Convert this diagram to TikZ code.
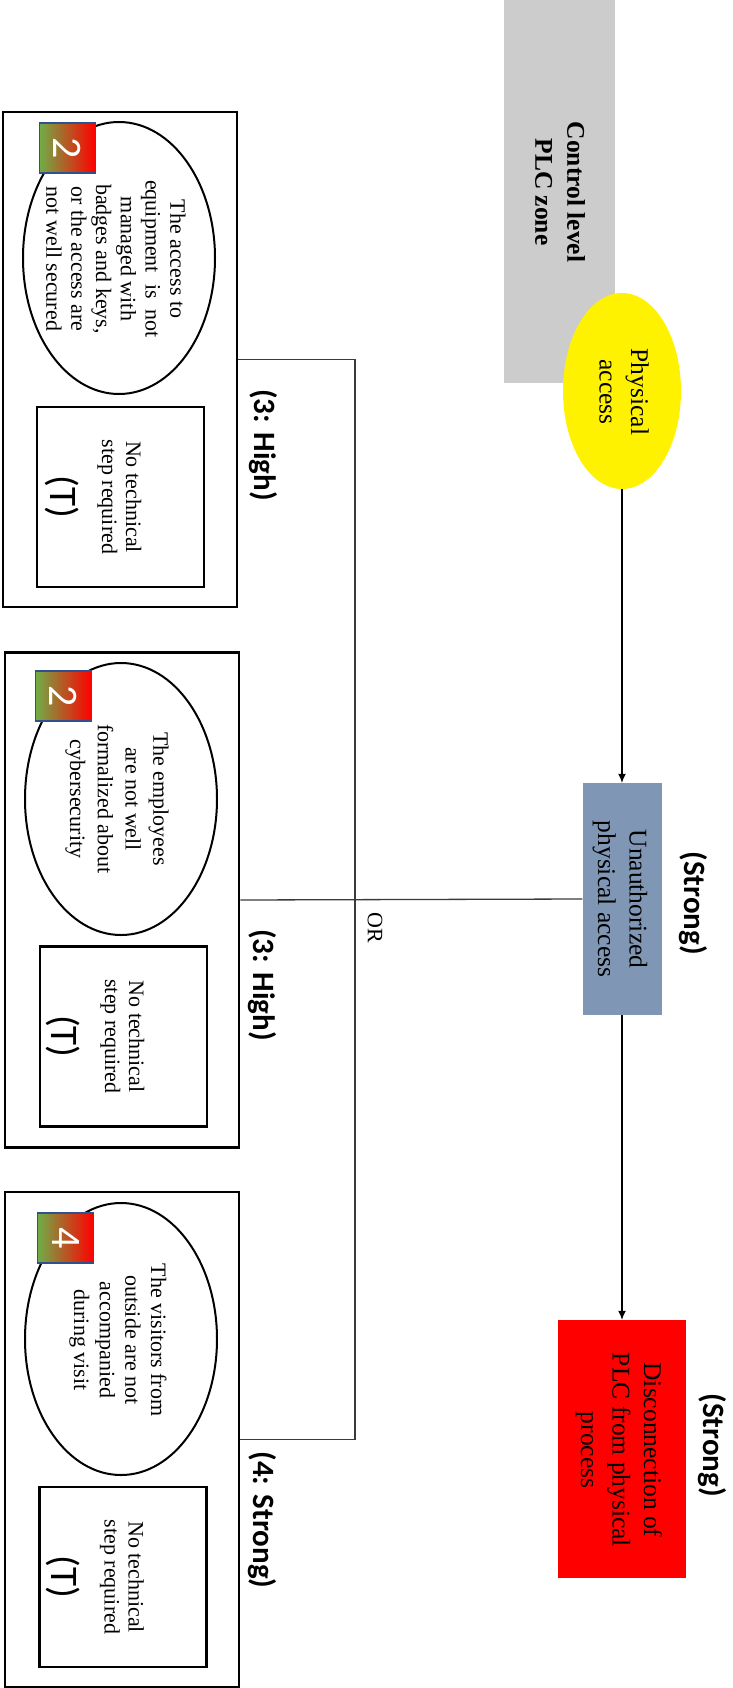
\documentclass[tikz,border=0pt]{standalone}
\usepackage{fontspec}
\setmainfont{Liberation Serif}
\newfontfamily\carl{Carlito}
\usetikzlibrary{arrows.meta,shapes.geometric}
\definecolor{zonegray}{HTML}{CCCCCC}
\definecolor{uablue}{HTML}{7F97B4}
\definecolor{bgreen}{HTML}{70AD47}
\definecolor{borange}{HTML}{ED7D31}
\definecolor{bborder}{HTML}{2F528F}
\definecolor{linegray}{HTML}{3A3A3A}
\begin{document}
\begin{tikzpicture}[x=1pt,y=-1pt,
  rtext/.style={rotate=-90, align=center, inner sep=0pt},
  outerbox/.style={draw, line width=2.5pt, minimum width=234pt, minimum height=495pt, inner sep=0pt},
  vuln/.style={ellipse, draw, line width=2pt, minimum width=192pt, minimum height=272pt, inner sep=0pt},
  techbox/.style={draw, line width=2.5pt, minimum width=167pt, minimum height=180pt, inner sep=0pt},
  badge/.style={draw=bborder, line width=1.8pt, left color=bgreen, middle color=borange, right color=red, minimum width=56pt, minimum height=50pt, inner sep=0pt},
  numtxt/.style={rtext, text=white, font=\carl\fontsize{42}{42}\selectfont},
  vtxt/.style={rtext, font=\fontsize{22}{#1}\selectfont},
  ttxt/.style={rtext, font=\fontsize{22}{24}\selectfont},
  ttag/.style={rtext, font=\carl\fontsize{39}{40}\selectfont},
  bigtxt/.style={rtext, font=\fontsize{25.5}{31.5}\selectfont},
  lab/.style={rtext, font=\carl\bfseries\fontsize{31}{36}\selectfont},
  arr/.style={draw, line width=1.2pt, -{Latex[length=9pt,width=8pt]}},
  conn/.style={draw=linegray, line width=1.3pt},
]
\useasboundingbox (0,0) rectangle (732,1688);

% zone
\node[fill=zonegray, minimum width=111pt, minimum height=383pt, inner sep=0pt] (zone) at (559.5,191.5) {};
\node[rtext, font=\bfseries\fontsize{25.5}{32}\selectfont] (zonet) at (560,192) {Control level\\PLC zone};

% physical access
\node[ellipse, fill=yellow, minimum width=118pt, minimum height=196pt, inner sep=0pt] (pa) at (622,391) {};
\node[bigtxt] (pat) at (624,392) {Physical\\access};

% unauthorized
\node[fill=uablue, minimum width=79pt, minimum height=232pt, inner sep=0pt] (ua) at (622,899) {};
\node[bigtxt] (uat) at (620,899) {Unauthorized\\physical access};
\node[lab] (ual) at (693,903) {(Strong)};

% disconnection
\node[fill=red, minimum width=128pt, minimum height=258pt, inner sep=0pt] (dc) at (622,1449) {};
\node[bigtxt] (dct) at (619,1450) {Disconnection of\\PLC from physical\\process};
\node[lab] (dcl) at (712,1445) {(Strong)};

\path[arr] (pa.south) -- (ua.north);
\path[arr] (ua.south) -- (dc.north);

% leaf boxes
\node[outerbox] (b1) at (120,359.5) {};
\node[outerbox] (b2) at (122,900) {};
\node[outerbox] (b3) at (122,1439.5) {};

\node[vuln] (e1) at (119,258) {};
\node[vtxt=24.8] (e1t) at (116,259) {The access to\\equipment\ \ is\ \ not\\managed with\\badges and keys,\\or the access are\\not well secured};
\node[badge] (g1) at (67.5,148) {};
\node[numtxt] (g1n) at (g1) {2};

\node[vuln] (e2) at (121,799) {};
\node[vtxt=27.7] (e2t) at (117,799) {The employees\\are not well\\formalized about\\cybersecurity};
\node[badge] (g2) at (63.5,696) {};
\node[numtxt] (g2n) at (g2) {2};

\node[vuln] (e3) at (121,1339) {};
\node[vtxt=25.7] (e3t) at (118,1340) {The visitors from\\outside are not\\accompanied\\during visit};
\node[badge] (g3) at (65.5,1238) {};
\node[numtxt] (g3n) at (g3) {4};

\node[techbox] (r1) at (120.5,497) {};
\node[ttxt] (r1t) at ([xshift=-1pt]r1.center) {No technical\\step required};
\node[ttag] (r1g) at ([xshift=-58pt]r1.center) {(T)};

\node[techbox] (r2) at (123.5,1036.5) {};
\node[ttxt] (r2t) at ([xshift=-1pt]r2.center) {No technical\\step required};
\node[ttag] (r2g) at ([xshift=-60pt]r2.center) {(T)};

\node[techbox] (r3) at (123,1577) {};
\node[ttxt] (r3t) at ([xshift=-1pt]r3.center) {No technical\\step required};
\node[ttag] (r3g) at ([xshift=-60pt]r3.center) {(T)};

% labels
\node[lab] (l1) at (263,445) {(3: High)};
\node[lab] (l2) at (262,985) {(3: High)};
\node[lab] (l3) at (262,1520) {(4: Strong)};

% OR connector
\coordinate (orx) at (355,0);
\path[conn] (ua.west) -- (b2.east);
\path[conn] (b1.east) -- (b1.east -| orx) -- (b3.east -| orx) -- (b3.east);
\node[rtext, font=\fontsize{22}{24}\selectfont] (ort) at (375,928) {OR};
\end{tikzpicture}
\end{document}
